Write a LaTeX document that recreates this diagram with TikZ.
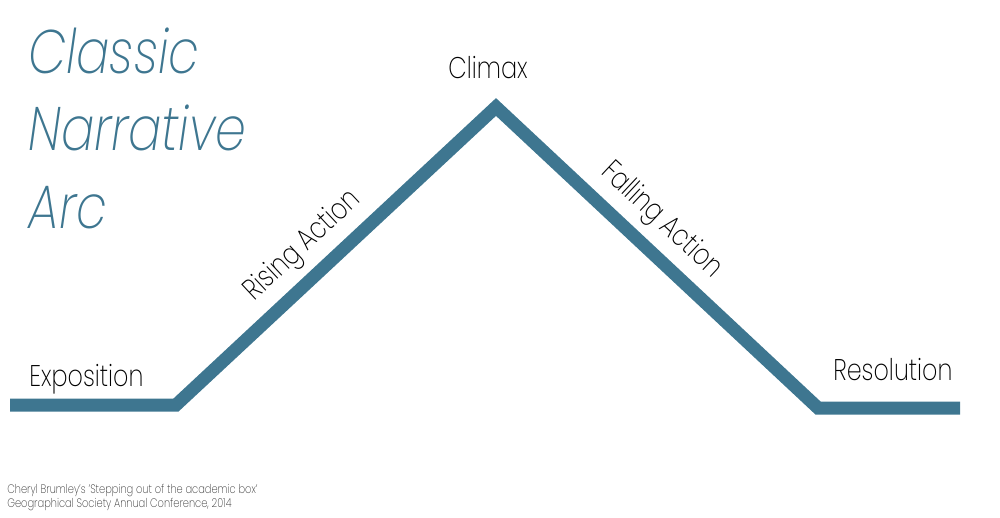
\documentclass[tikz,border=0pt]{standalone}
\usepackage{fontspec}
\setmainfont{Poppins}[UprightFont=* ExtraLight, ItalicFont=* ExtraLight Italic, FakeStretch=0.8]
\definecolor{arcblue}{HTML}{3E7690}
\begin{document}
\begin{tikzpicture}
        [x=0.02cm, y=-0.02cm,
        arcline/.style={line width=7.4pt, arcblue, line join=miter},
        title/.style={anchor=base west, inner sep=0pt, arcblue, font=\fontsize{35}{42}\selectfont\itshape},
        stage/.style={inner sep=0pt, black, font=\fontsize{17}{20}\selectfont},
        credit/.style={anchor=base west, inner sep=0pt, black!80, font=\fontsize{7}{8}\selectfont}]

        \useasboundingbox (0,0) rectangle (1000,517);

        % turning points of the arc
        \coordinate (start) at (10,405);
        \coordinate (rise) at (176,405);
        \coordinate (peak) at (496,107);
        \coordinate (fall) at (818,408);
        \coordinate (end) at (960,408);

        % the arc
        \draw[arcline] (start) -- (rise) -- (peak) -- (fall) -- (end);

        % title
        \node[title] (classic) at (28,73) {Classic};
        \node[title] (narrative) at (28,150) {Narrative};
        \node[title] (arc) at (28,228) {Arc};

        % stages
        \node[stage, anchor=base west] (exposition) at (29,386) {Exposition};
        \node[stage, anchor=base] (climax) at (488,79) {Climax};
        \node[stage, anchor=base west] (resolution) at (833,380) {Resolution};
        \path (rise) -- (peak) node[stage, pos=0.46, sloped, above=8pt] (rising) {Rising Action};
        \path (peak) -- (fall) node[stage, pos=0.45, sloped, above=8pt] (falling) {Falling Action};

        % source
        \node[credit] (credit1) at (7,493) {Cheryl Brumley's 'Stepping out of the academic box'};
        \node[credit] (credit2) at (7,507) {Geographical Society Annual Conference, 2014};

\end{tikzpicture}
\end{document}
